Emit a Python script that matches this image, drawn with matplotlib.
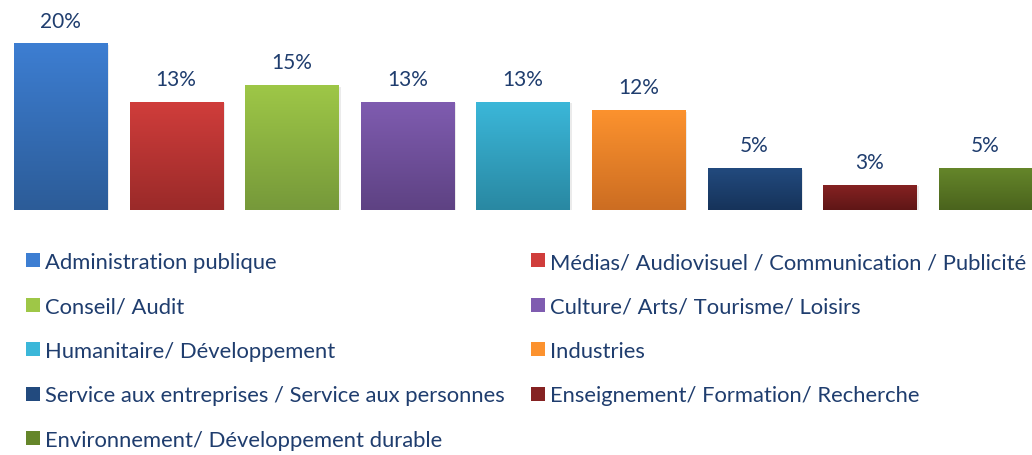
import numpy as np
import matplotlib
matplotlib.use("Agg")
import matplotlib.pyplot as plt
from matplotlib.colors import LinearSegmentedColormap
from matplotlib.patches import Rectangle

plt.rcParams['font.family'] = ['Lato', 'DejaVu Sans']

# données
categories = [
    "Administration publique",
    "Médias/ Audiovisuel / Communication / Publicité",
    "Conseil/ Audit",
    "Culture/ Arts/ Tourisme/ Loisirs",
    "Humanitaire/ Développement",
    "Industries",
    "Service aux entreprises / Service aux personnes",
    "Enseignement/ Formation/ Recherche",
    "Environnement/ Développement durable",
]
values = [20, 13, 15, 13, 13, 12, 5, 3, 5]
labels = ["20%", "13%", "15%", "13%", "13%", "12%", "5%", "3%", "5%"]

# couleurs haut / bas (dégradé)
top_colors = ['#3D7ED2', '#D03D3B', '#9EC747', '#7F5CB0', '#3BB7D9',
              '#FC922E', '#224A7E', '#852222', '#65862A']
bot_colors = ['#2C5C98', '#9A2A29', '#76993A', '#5E4283', '#2988A2',
              '#CC6D22', '#16335A', '#5F1616', '#4A631D']

TEXT_COLOR = '#1F3D6E'

fig = plt.figure(figsize=(10.32, 4.56), dpi=100)
ax = fig.add_axes([0, 0.537, 1, 0.463])

x = np.arange(len(values))
bw = 0.805
bars = ax.bar(x, values, width=bw, color='none', edgecolor='none')

grad = np.linspace(0, 1, 256).reshape(-1, 1)
for i, b in enumerate(bars):
    x0, w, h = b.get_x(), b.get_width(), b.get_height()
    # ombre légère
    ax.add_patch(Rectangle((x0 + 0.02, -0.15), w, h, color='#000000',
                           alpha=0.08, zorder=1, linewidth=0))
    cmap = LinearSegmentedColormap.from_list(f"g{i}", [bot_colors[i], top_colors[i]])
    ax.imshow(grad, extent=[x0, x0 + w, 0, h], origin='lower', cmap=cmap,
              aspect='auto', zorder=2)
    ax.text(b.get_x() + w / 2, h + 2.1, labels[i], ha='center', va='baseline',
            fontsize=15, color=TEXT_COLOR)

ax.set_xlim(-0.523, 8.404)
ax.set_ylim(0, 25.42)
ax.axis('off')

# légende (2 colonnes, ordre par ligne)
col_x = [26 / 1032, 531 / 1032]
row_base = [269, 313.5, 358, 402.5, 447]
sq = 14
for i, name in enumerate(categories):
    c, r = i % 2, i // 2
    yb = 1 - row_base[r] / 456
    fig.patches.append(Rectangle((col_x[c], yb + 1 / 456), sq / 1032, sq / 456,
                                 transform=fig.transFigure, color=top_colors[i],
                                 linewidth=0))
    fig.text(col_x[c] + 19 / 1032, yb, name, ha='left', va='baseline',
             fontsize=15.8, color=TEXT_COLOR)

fig.savefig("out.png", dpi=100)
